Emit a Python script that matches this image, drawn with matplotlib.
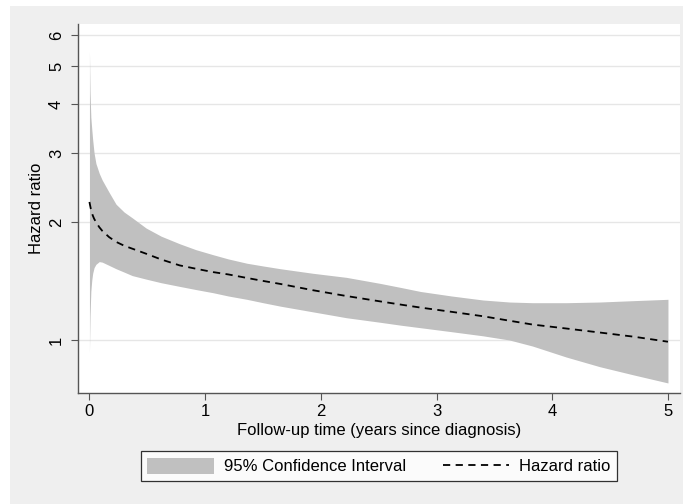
import matplotlib.pyplot as plt
from matplotlib.patches import Rectangle, Patch
from matplotlib.lines import Line2D
import matplotlib.ticker as mticker

plt.rcParams['font.family'] = ['Liberation Sans', 'DejaVu Sans']

# follow-up time (years) and hazard ratio with 95% CI
years = [0.0, 0.005, 0.012, 0.02, 0.028, 0.04, 0.056, 0.085, 0.11, 0.17, 0.23, 0.30,
         0.37, 0.49, 0.62, 0.78, 0.92, 1.07, 1.2, 1.36, 1.5, 1.65, 1.93, 2.22, 2.51,
         2.7, 2.86, 3.13, 3.4, 3.63, 3.83, 4.12, 4.41, 4.7, 5.0]
hr = [2.25, 2.21, 2.16, 2.12, 2.08, 2.04, 2.0, 1.94, 1.9, 1.83, 1.78, 1.74,
      1.71, 1.66, 1.605, 1.55, 1.52, 1.49, 1.47, 1.44, 1.415, 1.39, 1.34, 1.295, 1.255,
      1.23, 1.21, 1.18, 1.15, 1.12, 1.095, 1.07, 1.045, 1.02, 0.99]
ci_low = [0.93, 1.15, 1.33, 1.42, 1.48, 1.53, 1.56, 1.585, 1.58, 1.55, 1.52, 1.49,
          1.46, 1.43, 1.40, 1.37, 1.345, 1.32, 1.295, 1.27, 1.245, 1.22, 1.18, 1.14, 1.11,
          1.09, 1.075, 1.05, 1.025, 1.0, 0.965, 0.905, 0.855, 0.815, 0.777]
ci_high = [5.46, 4.3, 3.7, 3.45, 3.24, 3.0, 2.82, 2.66, 2.56, 2.38, 2.22, 2.12,
           2.05, 1.93, 1.84, 1.76, 1.70, 1.65, 1.61, 1.57, 1.545, 1.52, 1.48, 1.445, 1.395,
           1.36, 1.33, 1.295, 1.265, 1.25, 1.245, 1.245, 1.25, 1.26, 1.27]

xticks = [0, 1, 2, 3, 4, 5]
yticks = [1, 2, 3, 4, 5, 6]

W, H = 683, 504
FS = 12
fig = plt.figure(figsize=(W / 100, H / 100), dpi=100, facecolor='white')
fig.patches.append(Rectangle((10 / W, 0), 1, (H - 6) / H, transform=fig.transFigure,
                             facecolor='#efefef', edgecolor='none', zorder=-10))

ax = fig.add_axes([78 / W, 1 - 393 / H, (680 - 78) / W, (393 - 24) / H])
ax.set_zorder(1)
ax.set_facecolor('white')

ax.fill_between(years, ci_low, ci_high, color='#c0c0c0', linewidth=0, zorder=2)
ax.plot(years, hr, color='black', linestyle=(0, (4, 3)), linewidth=1.3, zorder=3)

ax.set_yscale('log')
ax.set_xlim(-0.099, 5.104)
ax.set_ylim(0.7325, 6.40)
ax.set_xticks(xticks)
ax.set_yticks(yticks)
ax.yaxis.set_major_formatter(mticker.FormatStrFormatter('%d'))
ax.yaxis.set_minor_locator(mticker.NullLocator())
ax.grid(axis='y', color='#e6e6e6', linewidth=1, zorder=1)
ax.set_axisbelow(True)

for s in ['top', 'right']:
    ax.spines[s].set_visible(False)
for s in ['left', 'bottom']:
    ax.spines[s].set_color('#555555')
    ax.spines[s].set_linewidth(1.0)

ax.tick_params(axis='both', length=5, color='#555555', labelsize=FS, pad=3)
ax.tick_params(axis='y', pad=5)
for lab in ax.get_yticklabels():
    lab.set_rotation(90)
    lab.set_va('center')

ax.set_xlabel('Follow-up time (years since diagnosis)', fontsize=FS, labelpad=3)
ax.set_ylabel('Hazard ratio', fontsize=FS, labelpad=4)

handles = [Patch(facecolor='#c0c0c0', edgecolor='none'),
           Line2D([], [], color='black', linestyle=(0, (4, 3)), linewidth=1.3)]
leg = fig.legend(handles, ['95% Confidence Interval', 'Hazard ratio'], ncol=2,
                 loc='center', bbox_to_anchor=(379 / W, 1 - 466 / H),
                 fontsize=FS, frameon=True, fancybox=False, handlelength=4.0,
                 handleheight=1.15, handletextpad=0.6, columnspacing=2.2,
                 borderpad=0.4)
leg.get_frame().set_edgecolor('black')
leg.get_frame().set_linewidth(0.9)

fig.savefig('out.png', dpi=100, facecolor=fig.get_facecolor())
